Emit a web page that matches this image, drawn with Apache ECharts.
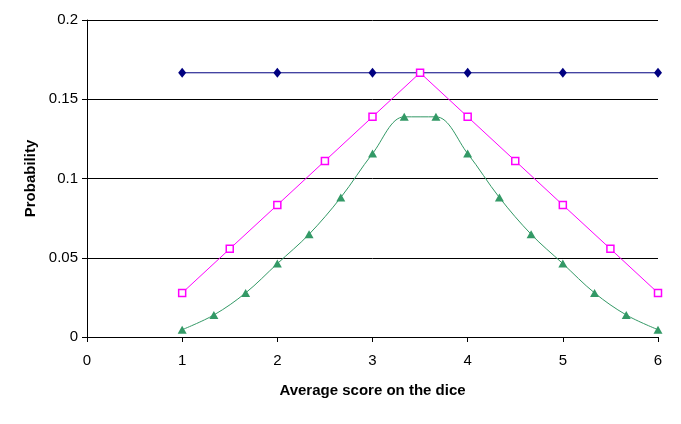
<!DOCTYPE html>
<html><head><meta charset="utf-8">
<script src="https://cdn.jsdelivr.net/npm/echarts@6/dist/echarts.min.js"></script>
<style>html,body{margin:0;padding:0;background:#fff}#c{width:681px;height:424px}</style>
</head><body><div id="c"></div>
<script>
const oneDieX = [1, 2, 3, 4, 5, 6];
const oneDieY = [0.1667, 0.1667, 0.1667, 0.1667, 0.1667, 0.1667];
const twoDiceX = [1, 1.5, 2, 2.5, 3, 3.5, 4, 4.5, 5, 5.5, 6];
const twoDiceY = [0.0278, 0.0556, 0.0833, 0.1111, 0.1389, 0.1667, 0.1389, 0.1111, 0.0833, 0.0556, 0.0278];
const threeDiceX = [1, 1.3333, 1.6667, 2, 2.3333, 2.6667, 3, 3.3333, 3.6667, 4, 4.3333, 4.6667, 5, 5.3333, 5.6667, 6];
const threeDiceY = [0.0046, 0.0139, 0.0278, 0.0463, 0.0648, 0.0880, 0.1157, 0.1389, 0.1389, 0.1157, 0.0880, 0.0648, 0.0463, 0.0278, 0.0139, 0.0046];
const xTicks = [0, 1, 2, 3, 4, 5, 6];
const yTicks = [0, 0.05, 0.1, 0.15, 0.2];

const zip = (xs, ys) => xs.map((x, i) => [x, ys[i]]);
const font = 'Liberation Sans, Arial, sans-serif';
const chart = echarts.init(document.getElementById('c'), null, {renderer: 'canvas'});
chart.setOption({
  animation: false,
  backgroundColor: '#ffffff',
  grid: {left: 87, right: 23, top: 20, bottom: 87, containLabel: false},
  xAxis: {
    type: 'value', min: 0, max: 6, interval: 1,
    name: 'Average score on the dice', nameLocation: 'middle', nameGap: 46,
    nameTextStyle: {fontFamily: font, fontWeight: 'bold', fontSize: 15, color: '#000'},
    axisLine: {lineStyle: {color: '#000', width: 1}},
    axisTick: {show: true, length: 5, inside: false, lineStyle: {color: '#000'}},
    axisLabel: {fontFamily: font, fontSize: 15, color: '#000', margin: 16,
      formatter: v => xTicks.includes(v) ? String(v) : ''},
    splitLine: {show: false}
  },
  yAxis: {
    type: 'value', min: 0, max: 0.2, interval: 0.05,
    name: 'Probability', nameLocation: 'middle', nameGap: 48, nameRotate: 90,
    nameTextStyle: {fontFamily: font, fontWeight: 'bold', fontSize: 15, color: '#000'},
    axisLine: {show: true, lineStyle: {color: '#000', width: 1}},
    axisTick: {show: true, length: 5, lineStyle: {color: '#000'}},
    axisLabel: {fontFamily: font, fontSize: 15, color: '#000', margin: 9,
      formatter: v => { const t = yTicks.find(y => Math.abs(y - v) < 1e-9); return t === undefined ? '' : String(t); }},
    splitLine: {show: true, lineStyle: {color: '#000', width: 1}}
  },
  series: [
    {
      type: 'line', name: 'One die', data: zip(oneDieX, oneDieY),
      lineStyle: {color: '#000080', width: 1}, itemStyle: {color: '#000080'},
      symbol: 'diamond', symbolSize: [8, 10]
    },
    {
      type: 'line', name: 'Two dice', data: zip(twoDiceX, twoDiceY),
      lineStyle: {color: '#ff00ff', width: 1},
      itemStyle: {color: '#ffffff', borderColor: '#ff00ff', borderWidth: 1.5},
      symbol: 'rect', symbolSize: 7
    },
    {
      type: 'line', name: 'Three dice', data: zip(threeDiceX, threeDiceY), smooth: 0.35,
      lineStyle: {color: '#339966', width: 1}, itemStyle: {color: '#339966'},
      symbol: 'triangle', symbolSize: [9, 8]
    }
  ]
});
</script></body></html>
